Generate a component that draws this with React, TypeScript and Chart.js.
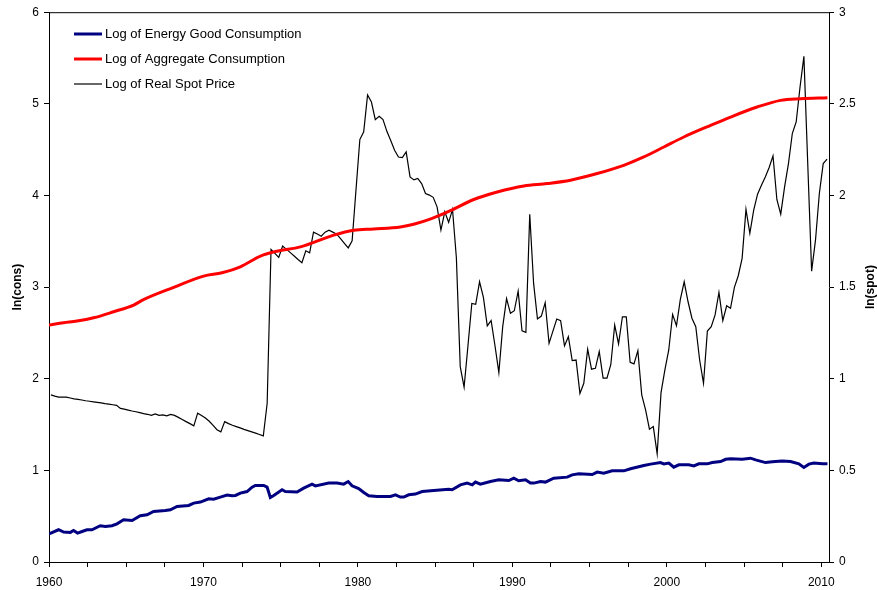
import React, { useEffect, useRef } from 'react';
import { Chart, registerables } from 'chart.js';

Chart.register(...registerables);

// quarterly spot price, 1960Q1 .. 2010Q2 (plotted mid-quarter)
const spotStart = 1960.125;
const spotPrice = [
  0.912, 0.905, 0.9, 0.9, 0.9, 0.895, 0.89, 0.887, 0.884, 0.88,
  0.877, 0.874, 0.871, 0.868, 0.864, 0.861, 0.858, 0.855, 0.838, 0.834,
  0.829, 0.824, 0.82, 0.815, 0.81, 0.806, 0.8, 0.808, 0.8, 0.803,
  0.798, 0.805, 0.8, 0.789, 0.778, 0.766, 0.755, 0.743, 0.812, 0.8,
  0.786, 0.768, 0.745, 0.722, 0.71, 0.766, 0.755, 0.746, 0.739, 0.732,
  0.724, 0.717, 0.71, 0.703, 0.696, 0.688, 0.866, 1.706, 1.684, 1.662,
  1.724, 1.706, 1.688, 1.67, 1.651, 1.633, 1.698, 1.687, 1.8, 1.79,
  1.778, 1.8, 1.811, 1.8, 1.789, 1.764, 1.739, 1.714, 1.753, 2.03,
  2.305, 2.347, 2.548, 2.51, 2.414, 2.432, 2.414, 2.35, 2.3, 2.247,
  2.21, 2.207, 2.238, 2.101, 2.085, 2.093, 2.065, 2.011, 2.002, 1.99,
  1.938, 1.811, 1.911, 1.853, 1.924, 1.66, 1.066, 0.954, 1.18, 1.411,
  1.406, 1.529, 1.444, 1.288, 1.317, 1.18, 1.033, 1.284, 1.437, 1.357,
  1.371, 1.478, 1.262, 1.253, 1.898, 1.52, 1.326, 1.342, 1.415, 1.193,
  1.26, 1.326, 1.317, 1.179, 1.229, 1.099, 1.102, 0.92, 0.975, 1.161,
  1.052, 1.057, 1.148, 1.003, 1.003, 1.078, 1.293, 1.19, 1.338, 1.338,
  1.09, 1.081, 1.153, 0.912, 0.83, 0.725, 0.739, 0.59, 0.924, 1.048,
  1.157, 1.351, 1.289, 1.433, 1.529, 1.42, 1.33, 1.284, 1.102, 0.975,
  1.26, 1.284, 1.348, 1.471, 1.317, 1.398, 1.384, 1.499, 1.562, 1.657,
  1.924, 1.793, 1.92, 2.007, 2.056, 2.101, 2.153, 2.216, 1.978, 1.898,
  2.047, 2.174, 2.338, 2.401, 2.592, 2.759, 2.17, 1.587, 1.756, 2.011,
  2.174, 2.198,
];

const energyYears = [
  1960.0, 1960.62, 1960.95, 1961.38, 1961.59, 1961.85, 1962.14, 1962.46, 1962.78, 1963.32,
  1963.65, 1964.08, 1964.4, 1964.83, 1965.38, 1965.91, 1966.35, 1966.77, 1967.53, 1967.86,
  1968.29, 1969.04, 1969.37, 1969.8, 1970.34, 1970.66, 1971.09, 1971.53, 1971.85, 1972.07,
  1972.39, 1972.82, 1973.15, 1973.36, 1973.9, 1974.12, 1974.33, 1974.55, 1975.09, 1975.3,
  1976.06, 1976.49, 1977.03, 1977.25, 1978.11, 1978.65, 1979.08, 1979.37, 1979.62, 1980.05,
  1980.38, 1980.7, 1981.24, 1982.11, 1982.43, 1982.75, 1982.97, 1983.29, 1983.72, 1984.16,
  1984.91, 1985.88, 1986.1, 1986.64, 1987.07, 1987.4, 1987.61, 1987.93, 1988.58, 1989.12,
  1989.77, 1990.09, 1990.41, 1990.85, 1991.17, 1991.39, 1991.82, 1992.14, 1992.68, 1993.55,
  1993.87, 1994.3, 1995.17, 1995.49, 1995.92, 1996.46, 1997.22, 1997.65, 1998.51, 1998.95,
  1999.59, 1999.81, 2000.13, 2000.45, 2000.78, 2001.42, 2001.75, 2002.07, 2002.62, 2002.94,
  2003.48, 2003.81, 2004.13, 2004.88, 2005.42, 2005.75, 2006.39, 2006.83, 2007.47, 2008.01,
  2008.55, 2008.87, 2009.2, 2009.52, 2010.07, 2010.4,
];
const energyCons = [
  0.308, 0.352, 0.327, 0.323, 0.344, 0.316, 0.333, 0.352, 0.352, 0.396,
  0.388, 0.396, 0.417, 0.461, 0.453, 0.504, 0.515, 0.551, 0.562, 0.57,
  0.606, 0.617, 0.643, 0.654, 0.69, 0.686, 0.708, 0.73, 0.722, 0.726,
  0.752, 0.769, 0.817, 0.835, 0.835, 0.817, 0.704, 0.726, 0.788, 0.769,
  0.763, 0.806, 0.85, 0.831, 0.861, 0.861, 0.85, 0.878, 0.831, 0.802,
  0.758, 0.722, 0.715, 0.715, 0.733, 0.708, 0.708, 0.733, 0.741, 0.769,
  0.78, 0.795, 0.788, 0.842, 0.861, 0.842, 0.872, 0.85, 0.878, 0.897,
  0.889, 0.915, 0.886, 0.897, 0.861, 0.861, 0.878, 0.872, 0.915, 0.926,
  0.951, 0.962, 0.955, 0.981, 0.97, 0.995, 0.995, 1.017, 1.053, 1.068,
  1.085, 1.071, 1.079, 1.035, 1.06, 1.06, 1.049, 1.071, 1.071, 1.085,
  1.096, 1.121, 1.126, 1.122, 1.133, 1.115, 1.085, 1.093, 1.101, 1.096,
  1.071, 1.031, 1.068, 1.079, 1.071, 1.071,
];

const aggYears = [
  1960.0, 1960.95, 1961.81, 1962.89, 1964.18, 1965.48, 1966.08, 1968.07, 1970.01, 1971.2,
  1972.39, 1973.69, 1974.77, 1976.28, 1978.43, 1979.73, 1981.02, 1982.75, 1983.61, 1984.81,
  1985.99, 1987.5, 1989.02, 1990.74, 1992.25, 1993.76, 1995.49, 1997.21, 1998.51, 1999.81,
  2001.1, 2002.83, 2004.13, 2005.85, 2007.36, 2008.66, 2010.4,
];
const aggCons = [
  2.587, 2.611, 2.629, 2.665, 2.731, 2.804, 2.86, 2.997, 3.12, 3.156,
  3.221, 3.338, 3.392, 3.439, 3.567, 3.621, 3.635, 3.657, 3.686, 3.75,
  3.834, 3.956, 4.038, 4.104, 4.13, 4.166, 4.239, 4.329, 4.42, 4.529,
  4.638, 4.765, 4.856, 4.965, 5.038, 5.056, 5.067,
];

const yearLabels = [1960, 1970, 1980, 1990, 2000, 2010];

const FONT = '"Liberation Sans", Arial, sans-serif';

const frameAndText = {
  id: 'frameAndText',
  afterDraw(chart: any) {
    const { ctx, chartArea: a } = chart;
    ctx.save();
    ctx.strokeStyle = '#000';
    ctx.lineWidth = 1;
    ctx.beginPath();
    ctx.moveTo(a.left, a.top + 0.5);
    ctx.lineTo(a.right, a.top + 0.5);
    ctx.stroke();

    // legend inside plot area
    ctx.font = `13px ${FONT}`;
    ctx.textBaseline = 'middle';
    ctx.fillStyle = '#000';
    chart.data.datasets.forEach((ds: any, i: number) => {
      const y = 34 + i * 25;
      ctx.strokeStyle = ds.borderColor;
      ctx.lineWidth = ds.borderWidth;
      ctx.beginPath();
      ctx.moveTo(74, y);
      ctx.lineTo(102, y);
      ctx.stroke();
      ctx.fillText(ds.label, 105, y);
    });

    // axis titles
    ctx.font = `bold 12px ${FONT}`;
    ctx.textAlign = 'center';
    const mid = (a.top + a.bottom) / 2;
    [[17.5, 'ln(cons)'], [871, 'ln(spot)']].forEach(([x, t]) => {
      ctx.save();
      ctx.translate(x as number, mid);
      ctx.rotate(-Math.PI / 2);
      ctx.fillText(t as string, 0, 0);
      ctx.restore();
    });
    ctx.restore();
  },
};

const axisCommon = {
  grid: { drawOnChartArea: false, color: '#000', tickLength: 5, tickWidth: 1 },
  border: { display: true, color: '#000', width: 1 },
};

const App: React.FC = () => {
  const canvasRef = useRef<HTMLCanvasElement>(null);

  useEffect(() => {
    document.body.style.margin = '0';
    if (!canvasRef.current) return;
    const chart = new Chart(canvasRef.current, {
      type: 'line',
      data: {
        datasets: [
          {
            label: 'Log of Energy Good Consumption',
            data: energyYears.map((x, i) => ({ x, y: energyCons[i] })),
            borderColor: '#000080',
            borderWidth: 3,
            pointRadius: 0,
            tension: 0,
            yAxisID: 'y',
          },
          {
            label: 'Log of Aggregate Consumption',
            data: aggYears.map((x, i) => ({ x, y: aggCons[i] })),
            borderColor: '#ff0000',
            borderWidth: 3,
            pointRadius: 0,
            cubicInterpolationMode: 'monotone',
            yAxisID: 'y',
          },
          {
            label: 'Log of Real Spot Price',
            data: spotPrice.map((y, j) => ({ x: spotStart + j / 4, y })),
            borderColor: '#000000',
            borderWidth: 1.2,
            pointRadius: 0,
            tension: 0,
            yAxisID: 'y1',
          },
        ],
      },
      options: {
        animation: false,
        responsive: true,
        maintainAspectRatio: false,
        layout: { padding: { top: 11, left: 0, right: 0, bottom: 0 } },
        plugins: { legend: { display: false }, tooltip: { enabled: false } },
        scales: {
          x: {
            type: 'linear',
            min: 1960,
            max: 2010.5,
            ...axisCommon,
            afterFit: (s: any) => { s.height = 28; },
            ticks: {
              stepSize: 2.5,
              includeBounds: false,
              autoSkip: false,
              maxRotation: 0,
              padding: 8,
              color: '#000',
              font: { family: FONT, size: 12 },
              callback: (v: any) => (yearLabels.includes(Number(v)) ? String(v) : ''),
            },
          },
          y: {
            position: 'left',
            min: 0,
            max: 6,
            ...axisCommon,
            afterFit: (s: any) => { s.width = 49; },
            ticks: { stepSize: 1, padding: 5, color: '#000', font: { family: FONT, size: 12 } },
          },
          y1: {
            position: 'right',
            min: 0,
            max: 3,
            ...axisCommon,
            afterFit: (s: any) => { s.width = 48; },
            ticks: {
              stepSize: 0.5,
              padding: 5,
              color: '#000',
              font: { family: FONT, size: 12 },
              callback: (v: any) => String(Number(v)),
            },
          },
        },
      },
      plugins: [frameAndText],
    });
    return () => chart.destroy();
  }, []);

  return (
    <div style={{ width: 877, height: 590, position: 'relative', background: '#fff' }}>
      <canvas ref={canvasRef} />
    </div>
  );
};

export default App;
